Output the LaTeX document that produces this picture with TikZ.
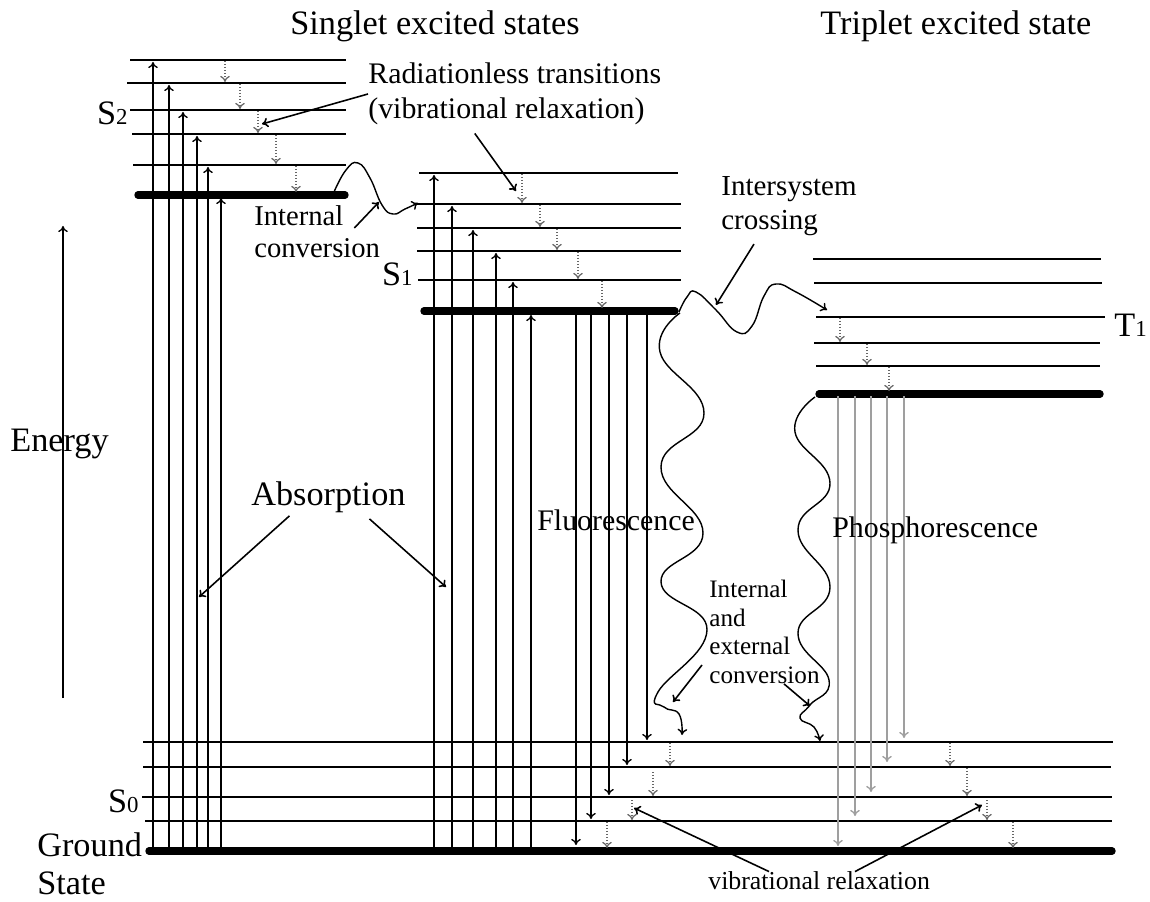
\documentclass[tikz,border=0pt]{standalone}
\usepackage{fontspec}
\setmainfont{Liberation Serif}
\usetikzlibrary{arrows.meta}

\begin{document}
\begin{tikzpicture}[x=0.02cm, y=-0.02cm, >={To[length=3.5pt, width=5.5pt]}]
    % Definizione stili
    \tikzset{
        vlevel/.style={line width=1.1pt},
        thicklevel/.style={line width=4.2pt, line cap=round},
        updown/.style={->, line width=0.75pt},
        phosarrow/.style={->, line width=0.75pt, gray!75},
        relaxarrow/.style={->, line width=0.7pt, gray!80!black, densely dotted},
        wave/.style={->, line width=0.8pt},
        pointer/.style={->, line width=0.9pt},
        bigtext/.style={font=\fontsize{19.5}{22}\selectfont, inner sep=0pt, align=left},
        midtext/.style={font=\fontsize{17}{20}\selectfont, inner sep=0pt, align=left},
        smalltext/.style={font=\fontsize{14.3}{16.2}\selectfont, inner sep=0pt, align=left}
    }
    \useasboundingbox (0,0) rectangle (1150,902);

    % Titoli
    \node[bigtext, anchor=west] (singlet) at (290,26) {Singlet excited states};
    \node[bigtext, anchor=west] (triplet) at (820,26) {Triplet excited state};

    % Livelli S2
    \draw[vlevel] (130,60) -- (346,60);
    \draw[vlevel] (127,83) -- (346,83);
    \draw[vlevel] (130,110) -- (346,110);
    \draw[vlevel] (132,134) -- (346,134);
    \draw[vlevel] (133,165) -- (346,165);
    \draw[thicklevel] (138,195) -- (345,195);
    \node[bigtext, anchor=east] (S2lab) at (128,113) {S{\fontsize{13}{13}\selectfont 2}};

    % Livelli S1
    \draw[vlevel] (419,173) -- (678,173);
    \draw[vlevel] (417,204) -- (681,204);
    \draw[vlevel] (417,228) -- (681,228);
    \draw[vlevel] (417,251) -- (681,251);
    \draw[vlevel] (418,280) -- (681,280);
    \draw[thicklevel] (424,311) -- (675,311);
    \node[bigtext, anchor=east] (S1lab) at (413,274) {S{\fontsize{13}{13}\selectfont 1}};

    % Livelli T1
    \draw[vlevel] (813,259) -- (1101,259);
    \draw[vlevel] (814,283) -- (1102,283);
    \draw[vlevel] (816,317) -- (1105,317);
    \draw[vlevel] (814,343) -- (1100,343);
    \draw[vlevel] (816,366) -- (1100,366);
    \draw[thicklevel] (819,394) -- (1100,394);
    \node[bigtext, anchor=west] (T1lab) at (1114,325) {T{\fontsize{13}{13}\selectfont 1}};

    % Livelli S0 (stato fondamentale)
    \draw[vlevel] (143,742) -- (1113,742);
    \draw[vlevel] (143,767) -- (1111,767);
    \draw[vlevel] (142,797) -- (1112,797);
    \draw[vlevel] (145,821) -- (1112,821);
    \draw[thicklevel] (149,851) -- (1112,851);
    \node[bigtext, anchor=east] (S0lab) at (139,801) {S{\fontsize{13}{13}\selectfont 0}};
    \node[font=\fontsize{19.5}{21.5}\selectfont, inner sep=0pt, align=left, anchor=west] (ground) at (37,864) {Ground\\State};

    % Energia
    \node[bigtext, anchor=west] (energy) at (10,444) {Energy};
    \draw[->, line width=0.75pt] (63,698) -- (63,226);

    % Assorbimento
    \draw[updown] (153,851) -- (153,62);
    \draw[updown] (169,851) -- (169,85);
    \draw[updown] (183,851) -- (183,112);
    \draw[updown] (197,851) -- (197,136);
    \draw[updown] (208,851) -- (208,167);
    \draw[updown] (221,851) -- (221,198);
    \draw[updown] (434,851) -- (434,175);
    \draw[updown] (452,851) -- (452,206);
    \draw[updown] (473,851) -- (473,230);
    \draw[updown] (496,851) -- (496,253);
    \draw[updown] (513,851) -- (513,282);
    \draw[updown] (531,851) -- (531,315);

    % Fluorescenza
    \draw[updown] (576,313) -- (576,845);
    \draw[updown] (591,313) -- (591,819);
    \draw[updown] (609,313) -- (609,795);
    \draw[updown] (627,313) -- (627,765);
    \draw[updown] (647,313) -- (647,740);

    % Fosforescenza
    \draw[phosarrow] (838,396) -- (838,846);
    \draw[phosarrow] (855,396) -- (855,816);
    \draw[phosarrow] (871,396) -- (871,792);
    \draw[phosarrow] (887,396) -- (887,762);
    \draw[phosarrow] (904,396) -- (904,738);

    % Rilassamento vibrazionale
    \draw[relaxarrow] (225,61) -- (225,82);
    \draw[relaxarrow] (240,84) -- (240,109);
    \draw[relaxarrow] (258,111) -- (258,133);
    \draw[relaxarrow] (276,135) -- (276,164);
    \draw[relaxarrow] (296,166) -- (296,192);
    \draw[relaxarrow] (522,174) -- (522,203);
    \draw[relaxarrow] (540,205) -- (540,227);
    \draw[relaxarrow] (557,229) -- (557,250);
    \draw[relaxarrow] (578,252) -- (578,279);
    \draw[relaxarrow] (602,281) -- (602,308);
    \draw[relaxarrow] (840,318) -- (840,342);
    \draw[relaxarrow] (867,344) -- (867,365);
    \draw[relaxarrow] (889,367) -- (889,391);
    \draw[relaxarrow] (670,743) -- (670,766);
    \draw[relaxarrow] (653,772) -- (653,796);
    \draw[relaxarrow] (632,800) -- (632,820);
    \draw[relaxarrow] (607,822) -- (607,848);
    \draw[relaxarrow] (950,743) -- (950,766);
    \draw[relaxarrow] (967,768) -- (967,796);
    \draw[relaxarrow] (987,800) -- (987,820);
    \draw[relaxarrow] (1013,822) -- (1013,848);

    % Transizioni non radiative
    \draw[wave] plot[smooth, tension=0.8] coordinates {(334,192) (346,170) (358,163) (370,178) (382,205) (393,214) (405,209) (418,203)};
    \draw[wave] plot[smooth, tension=0.8] coordinates {(679,312) (687,297) (696,292) (716,310) (737,332) (752,326) (764,296) (776,284) (796,292) (827,310)};
    \draw[wave] plot[smooth, tension=0.8] coordinates {(680,313) (660,352) (704,413) (661,467) (703,533) (661,582) (707,630) (658,692) (664,707) (679,714) (682,735)};
    \draw[wave] plot[smooth, tension=0.8] coordinates {(815,397) (795,432) (830,483) (798,530) (830,587) (798,633) (829,680) (810,705) (800,718) (814,727) (820,741)};

    % Etichette
    \node[midtext, anchor=west] (rad) at (368,94) {Radiationless transitions\\(vibrational relaxation)};
    \node[font=\fontsize{16.3}{18}\selectfont, inner sep=0pt, align=left, anchor=west] (icS2) at (254,232) {Internal\\conversion};
    \node[font=\fontsize{16.5}{19.5}\selectfont, inner sep=0pt, align=left, anchor=west] (isc) at (721,206) {Intersystem\\crossing};
    \node[bigtext, anchor=west] (abs) at (251,497) {Absorption};
    \node[midtext, anchor=west] (fluo) at (537,520) {Fluorescence};
    \node[midtext, anchor=west] (phos) at (832,530) {Phosphorescence};
    \node[smalltext, anchor=west] (iec) at (709,632) {Internal\\and\\external\\conversion};
    \node[font=\fontsize{14.7}{16}\selectfont, inner sep=0pt, anchor=west] (vib) at (708,881) {vibrational relaxation};

    % Frecce indicatrici
    \draw[pointer] (rad.west) -- (262,124);
    \draw[pointer] (rad.south) ++(-40,8) -- (516,191);
    \draw[pointer] (icS2.east) ++(-26,-4) -- (379,202);
    \draw[pointer] (isc.south) ++(-35,8) -- (716,305);
    \draw[pointer] (abs.south) ++(-39,3) -- (199,597);
    \draw[pointer] (abs.south) ++(41,6) -- (446,587);
    \draw[pointer] (iec.west) ++(-7,33) -- (673,702);
    \draw[pointer] (iec.south west) ++(75,0) -- (810,706);
    \draw[pointer] (vib.north west) ++(61,0) -- (634,808);
    \draw[pointer] (vib.north west) ++(147,0) -- (982,805);
\end{tikzpicture}
\end{document}
